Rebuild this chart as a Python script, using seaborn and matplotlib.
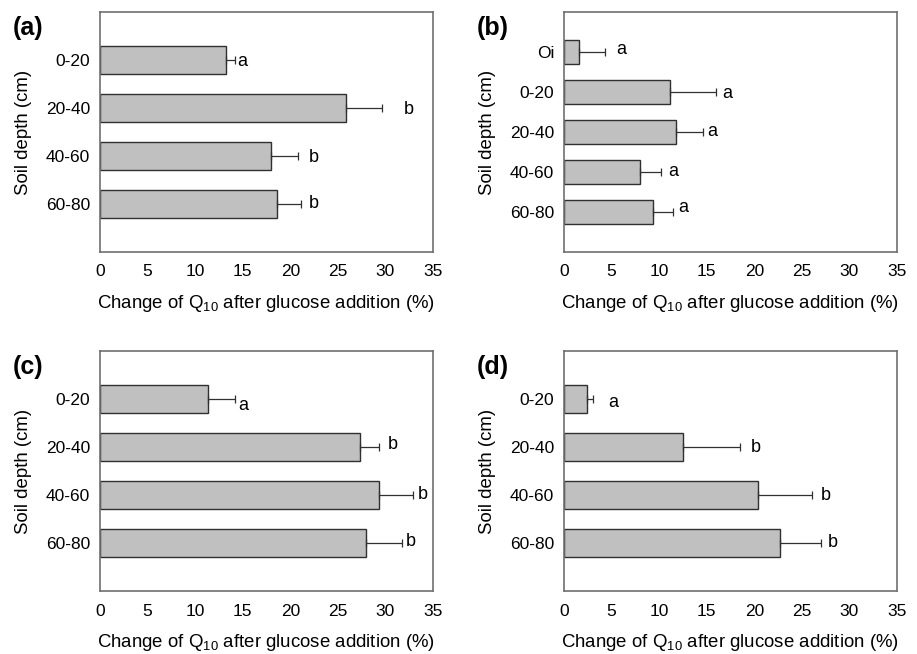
import matplotlib
matplotlib.use("Agg")
import matplotlib.pyplot as plt
import seaborn as sns
import pandas as pd
import numpy as np

# ---- data ----
panels = ["(a)", "(b)", "(c)", "(d)"]

cats_a = ["0-20", "20-40", "40-60", "60-80"]
vals_a = [13.2, 25.9, 18.0, 18.6]
errs_a = [1.0, 3.7, 2.8, 2.5]
lets_a = ["a", "b", "b", "b"]
letx_a = [14.9, 32.5, 22.5, 22.5]
lety_a = [0.04, 0.04, 0.04, 0.0]

cats_b = ["Oi", "0-20", "20-40", "40-60", "60-80"]
vals_b = [1.6, 11.1, 11.8, 8.0, 9.4]
errs_b = [2.7, 4.9, 2.8, 2.2, 2.1]
lets_b = ["a", "a", "a", "a", "a"]
letx_b = [6.0, 17.2, 15.6, 11.5, 12.5]
lety_b = [-0.06, 0.04, -0.02, 0.0, -0.12]

cats_c = ["0-20", "20-40", "40-60", "60-80"]
vals_c = [11.3, 27.3, 29.3, 28.0]
errs_c = [2.9, 2.0, 3.6, 3.7]
lets_c = ["a", "b", "b", "b"]
letx_c = [15.1, 30.8, 33.9, 32.7]
lety_c = [0.14, -0.05, -0.02, -0.03]

cats_d = ["0-20", "20-40", "40-60", "60-80"]
vals_d = [2.4, 12.5, 20.4, 22.7]
errs_d = [0.7, 6.0, 5.7, 4.3]
lets_d = ["a", "b", "b", "b"]
letx_d = [5.2, 20.2, 27.5, 28.2]
lety_d = [0.08, 0.02, 0.02, -0.02]

xticks = [0, 5, 10, 15, 20, 25, 30, 35]
xlabel = "Change of Q$_{10}$ after glucose addition (%)"
ylabel = "Soil depth (cm)"

sets = [
    (cats_a, vals_a, errs_a, lets_a, letx_a, lety_a),
    (cats_b, vals_b, errs_b, lets_b, letx_b, lety_b),
    (cats_c, vals_c, errs_c, lets_c, letx_c, lety_c),
    (cats_d, vals_d, errs_d, lets_d, letx_d, lety_d),
]

sns.set_style("white")
plt.rcParams["font.family"] = ["Liberation Sans", "DejaVu Sans"]
plt.rcParams["mathtext.fontset"] = "custom"
plt.rcParams["mathtext.rm"] = "Liberation Sans"
plt.rcParams["mathtext.it"] = "Liberation Sans"
plt.rcParams["text.color"] = "black"
plt.rcParams["axes.labelcolor"] = "black"
plt.rcParams["xtick.color"] = "black"
plt.rcParams["ytick.color"] = "black"

W, H = 917, 654
fig = plt.figure(figsize=(W / 100, H / 100), dpi=100)

boxes = [(100, 12), (564, 12), (100, 351), (564, 351)]
aw, ah = 333, 240
spine_col = "#707070"

for i, (cats, vals, errs, lets, letx, lety) in enumerate(sets):
    x0, y0 = boxes[i]
    ax = fig.add_axes([x0 / W, 1 - (y0 + ah) / H, aw / W, ah / H])
    df = pd.DataFrame({"depth": cats, "value": vals})
    n = len(cats)
    sns.barplot(data=df, x="value", y="depth", order=cats, ax=ax,
                color="#c0c0c0", edgecolor="#303030", linewidth=1.0,
                width=0.6, saturation=1, errorbar=None)
    ypos = np.arange(n)
    ax.errorbar(vals, ypos, xerr=[np.zeros(n), errs], fmt="none",
                ecolor="#303030", elinewidth=0.9, capsize=3, capthick=0.9)
    for j in range(n):
        ax.text(letx[j], ypos[j] + lety[j], lets[j], ha="center", va="center",
                fontsize=13, color="black")
    ax.set_xlim(0, 35)
    ax.set_ylim(n, -1)
    ax.set_xticks(xticks)
    ax.set_xticklabels([str(t) for t in xticks], fontsize=12.5)
    ax.set_yticks(ypos)
    ax.set_yticklabels(cats, fontsize=12.5)
    ax.tick_params(axis="both", direction="out", length=4, width=1,
                   color=spine_col, pad=3, labelcolor="black")
    ax.tick_params(axis="x", pad=5)
    for s in ax.spines.values():
        s.set_visible(True)
        s.set_color(spine_col)
        s.set_linewidth(1.2)
    ax.set_xlabel(xlabel, fontsize=13.4, labelpad=10)
    ax.set_ylabel(ylabel, fontsize=13.4, labelpad=10)
    fig.text((x0 - 87) / W, 1 - (y0 + 16) / H, panels[i],
             fontsize=18, fontweight="bold", ha="left", va="center")

fig.savefig("out.png", dpi=100)
